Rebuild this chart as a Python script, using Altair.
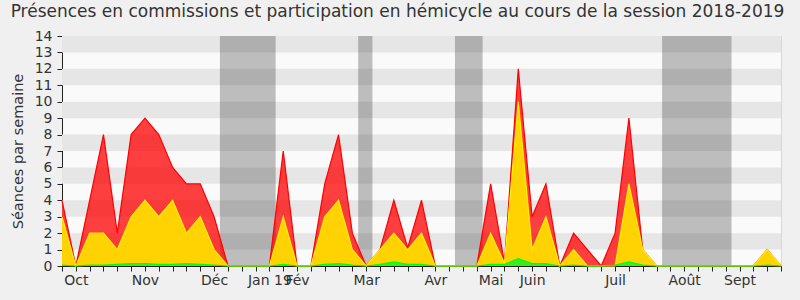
import altair as alt
import pandas as pd

weeks = list(range(53))
red = [4, 0, 4, 8, 2, 8, 9, 8, 6, 5, 5, 3, 0, 0, 0, 0, 7, 0, 0, 5, 8, 2, 0, 1, 4, 1.1, 4, 0,
       0, 0, 0, 5, 0.2, 12, 3, 5, 0, 2, 1, 0, 2, 9, 1, 0, 0, 0, 0, 0, 0, 0, 0, 1, 0]
yellow = [3, 0, 2, 2, 1, 3, 4, 3, 4, 2, 3, 1, 0, 0, 0, 0, 3, 0, 0, 3, 4, 1, 0, 1, 2, 1, 2, 0,
          0, 0, 0, 2, 0.15, 10, 1, 3, 0, 1, 0, 0, 0, 5, 1, 0, 0, 0, 0, 0, 0, 0, 0, 1, 0]
green = [0.05, 0, 0.05, 0.05, 0.1, 0.15, 0.15, 0.1, 0.1, 0.15, 0.1, 0.05, 0, 0, 0, 0, 0.1, 0, 0,
         0.1, 0.15, 0.05, 0, 0.1, 0.25, 0.1, 0.1, 0, 0, 0, 0, 0.1, 0.1, 0.45, 0.15, 0.15, 0,
         0.05, 0, 0, 0.05, 0.25, 0.05, 0, 0, 0, 0, 0, 0, 0, 0, 0.05, 0]

NB = "\u00a0"
month_labels = ["Oct", "Nov", "Déc", "Jan 19" + NB + NB, NB + NB + "Fév", "Mar", "Avr", "Mai",
                "Juin", "Juil", "Août", "Sept"]
month_weeks = [1, 6, 11, 15, 17, 22, 27, 31, 34, 40, 45, 49]

vac_start = [11.42, 21.42, 28.42, 43.4]
vac_end = [15.45, 22.45, 30.42, 48.42]

stripe_lo = [1, 3, 5, 7, 9, 11, 13]

df = pd.DataFrame({"week": weeks, "red": red, "yellow": yellow, "green": green})
vac = pd.DataFrame({"x0": vac_start, "x1": vac_end, "y0": 0, "y1": 14})
stripes = pd.DataFrame({"y0": stripe_lo, "y1": [v + 1 for v in stripe_lo], "x0": 0, "x1": 52})

lab_arr = [""] * 53
for w, l in zip(month_weeks, month_labels):
    lab_arr[w] = l
label_expr = "[" + ",".join("'" + s + "'" for s in lab_arr) + "][datum.value]"

xscale = alt.Scale(domain=[0, 52], nice=False, zero=False)
yscale = alt.Scale(domain=[0, 14], nice=False, zero=True)

xaxis = alt.Axis(values=weeks, labelExpr=label_expr, title=None, grid=False,
                 tickSize=5, labelPadding=2, labelFontSize=14, labelFont="DejaVu Sans",
                 labelColor="#333333", domainColor="#222222", tickColor="#222222",
                 labelOverlap=False, labelFlush=False, labelBound=False)
yaxis = alt.Axis(values=list(range(15)), title="Séances par semaine", grid=False,
                 tickSize=5, labelPadding=5, labelFontSize=14, labelFont="DejaVu Sans",
                 labelColor="#333333", domainColor="#222222", tickColor="#222222",
                 titleFontSize=14.5, titleFont="DejaVu Sans", titleColor="#333333",
                 titleFontWeight="normal", titlePadding=9, labelOverlap=False,
                 labelFlush=False, labelBound=False)

X = lambda f: alt.X(f, scale=xscale, axis=xaxis)
Y = lambda f: alt.Y(f, scale=yscale, axis=yaxis)

stripe_layer = alt.Chart(stripes).mark_rect(color="#E6E6E6").encode(
    x=X("x0:Q"), x2="x1:Q", y=Y("y0:Q"), y2="y1:Q",
)

vac_layer = alt.Chart(vac).mark_rect(color="#323232", opacity=0.3).encode(
    x=X("x0:Q"), x2="x1:Q", y=Y("y0:Q"), y2="y1:Q",
)

def area(field, fill, stroke, op):
    base = alt.Chart(df).encode(x=X("week:Q"), y=Y(field + ":Q"))
    return base.mark_area(color=fill, opacity=op) + base.mark_line(color=stroke, strokeWidth=1.2)

chart = alt.layer(
    stripe_layer,
    vac_layer,
    area("red", "#FF0000", "#FF0000", 0.75),
    area("yellow", "#FFD700", "#FFF000", 0.97),
    area("green", "#22EE22", "#00FF00", 0.9),
).properties(
    width=719,
    height=230,
    autosize=alt.AutoSizeParams(type="none"),
    padding={"left": 62, "top": 36, "right": 19, "bottom": 34},
    background="#F0F0F0",
    title=alt.TitleParams(
        "Présences en commissions et participation en hémicycle au cours de la session 2018-2019",
        fontSize=17, font="DejaVu Sans", color="#333333", fontWeight="normal",
        anchor="middle", dx=-24, offset=8,
    ),
).configure_view(fill="#FAFAFA", stroke="#D8D8D8")

chart.save("out.html", embed_options={"renderer": "svg", "actions": False})
